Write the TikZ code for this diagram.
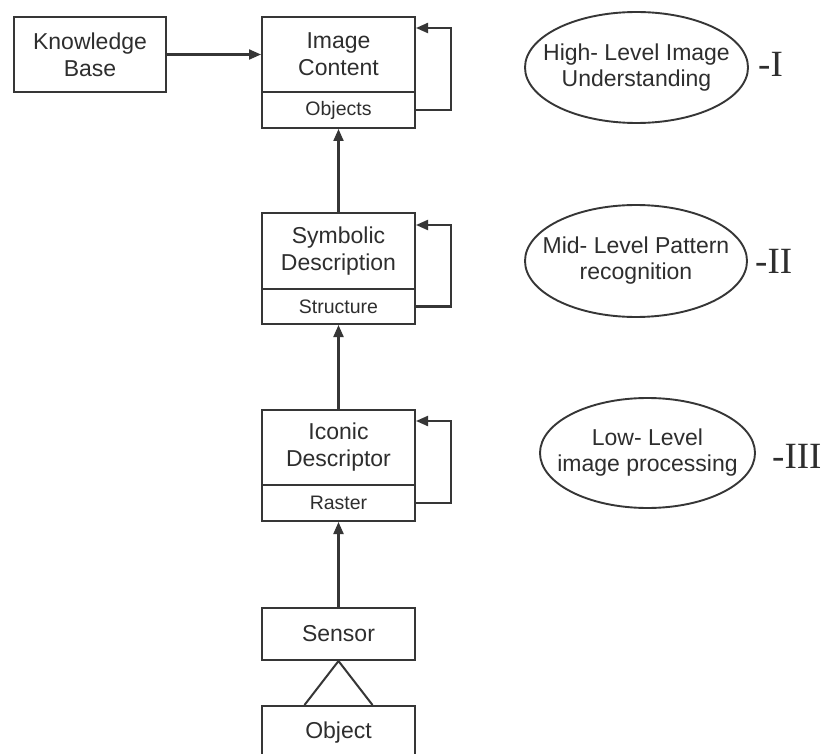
\documentclass[tikz,border=0pt]{standalone}
\usepackage{fontspec}
\setmainfont{Liberation Sans}
\newfontfamily\romfont{Liberation Serif}
\usetikzlibrary{arrows.meta}
\definecolor{ink}{HTML}{363636}
\definecolor{txt}{HTML}{2E2E2E}
\tikzset{
  box/.style={draw=ink, line width=2pt, rectangle, inner sep=0pt, minimum width=153pt,
    text=txt, align=center, font=\fontsize{23}{27}\selectfont},
  subbox/.style={box, font=\fontsize{19.5}{23}\selectfont},
  leveltext/.style={inner sep=0pt, text=txt, align=center, font=\fontsize{23}{26}\selectfont},
  levelring/.style={draw=ink, line width=1.9pt},
  roman/.style={anchor=base west, inner sep=0pt, text=txt, font=\romfont\fontsize{37}{40}\selectfont},
  arr/.style={draw=ink, line width=2.1pt, -{Triangle[length=12pt,width=10pt]}},
  link/.style={draw=ink, line width=2pt},
}
\begin{document}
\begin{tikzpicture}[x=1pt,y=-1pt]
\clip (0,0) rectangle (825,754);
\fill[white] (0,0) rectangle (825,754);

% knowledge base
\node[box, minimum width=152pt, minimum height=75pt] (kb) at (90,54.5) {Knowledge\\Base};

% image content
\node[box, minimum height=75pt] (ic) at (338.5,54.5) {Image\\Content};
\node[subbox, minimum height=36pt] (icl) at (338.5,110) {Objects};

% symbolic description
\node[box, minimum height=76pt] (sd) at (338.5,251) {Symbolic\\Description};
\node[subbox, minimum height=35pt] (sdl) at (338.5,306.5) {Structure};

% iconic descriptor
\node[box, minimum height=75pt] (id) at (338.5,447.5) {Iconic\\Descriptor};
\node[subbox, minimum height=36pt] (idl) at (338.5,503) {Raster};

% sensor and object
\node[box, minimum height=52pt] (sen) at (338.5,634) {Sensor};
\node[box, minimum height=54pt] (obj) at (338.5,733) {Object};

% connectors
\draw[arr] (kb.east) -- (ic.west);
\draw[arr] (sd.north) -- (icl.south);
\draw[arr] (id.north) -- (sdl.south);
\draw[arr] (sen.north) -- (idl.south);
\draw[link] ([xshift=-34pt]obj.north) -- (sen.south) -- ([xshift=34pt]obj.north);

% feedback loops
\draw[arr] (icl.east) -- ++(35,0) |- ([yshift=-12pt]ic.north east);
\draw[arr] (sdl.east) -- ++(35,0) |- ([yshift=-13pt]sd.north east);
\draw[arr] (idl.east) -- ++(35,0) |- ([yshift=-12pt]id.north east);

% processing levels
\node[leveltext] (high) at (636.5,67.5) {High- Level Image\\Understanding};
\draw[levelring] (high.center) ellipse [x radius=111.5, y radius=55.5];
\node[leveltext] (mid) at (636,261) {Mid- Level Pattern\\recognition};
\draw[levelring] (mid.center) ellipse [x radius=111, y radius=56];
\node[leveltext] (low) at (647.5,453) {Low- Level\\image processing};
\draw[levelring] (low.center) ellipse [x radius=107.5, y radius=55];

\node[roman] (r1) at (758,77) {-I};
\node[roman] (r2) at (755,273) {-II};
\node[roman] (r3) at (772,468) {-III};
\end{tikzpicture}
\end{document}
